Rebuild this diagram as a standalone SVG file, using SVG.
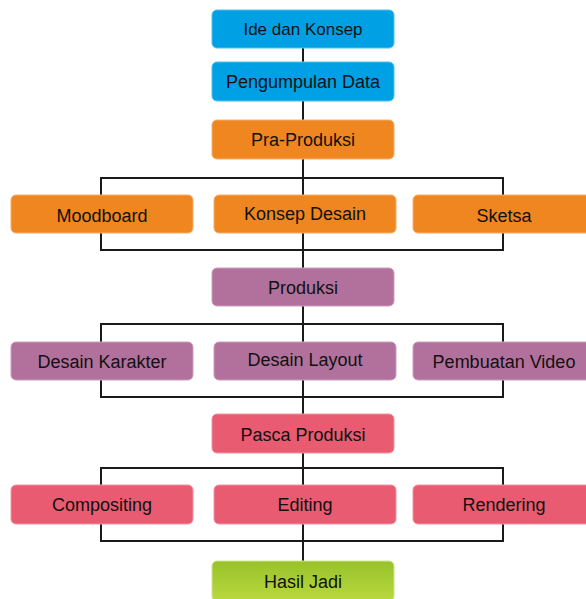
<svg xmlns="http://www.w3.org/2000/svg" width="586" height="599" viewBox="0 0 586 599">
<defs>
<linearGradient id="gGreen" x1="0" y1="0" x2="0" y2="1">
<stop offset="0" stop-color="#98c22a"/>
<stop offset="1" stop-color="#b9d93f"/>
</linearGradient>
<style>
.box{stroke-width:1}
.blue{fill:#00a0e4;stroke:#4fc0ee}
.orange{fill:#ef861f;stroke:#f5ae6a}
.purple{fill:#b1719c;stroke:#cc9fbd}
.pink{fill:#e85b70;stroke:#f094a2}
.green{fill:url(#gGreen);stroke:#cfe58a}
.lbl{font-size:18px;fill:#111;text-anchor:middle}
.con{fill:none;stroke:#1a1a1a;stroke-width:2}
</style>
</defs>
<rect width="586" height="599" fill="#fff"/>
<g id="connectors">
<line class="con" x1="303" y1="40" x2="303" y2="570"/>
<rect class="con" x="101" y="178" width="402" height="72"/>
<rect class="con" x="101" y="324" width="402" height="73"/>
<rect class="con" x="101" y="468" width="402" height="73"/>
</g>
<g font-family="Liberation Sans, Arial, sans-serif">
<g id="ide"><rect class="box blue" x="212" y="10" width="182" height="38" rx="5"/><text class="lbl" x="303" y="34.5" style="font-size:17px">Ide dan Konsep</text></g>
<g id="pengumpulan"><rect class="box blue" x="212" y="62" width="182" height="39" rx="5"/><text class="lbl" x="303" y="87.5">Pengumpulan Data</text></g>
<g id="praproduksi"><rect class="box orange" x="212" y="120" width="182" height="39" rx="5"/><text class="lbl" x="303" y="146">Pra-Produksi</text></g>
<g id="moodboard"><rect class="box orange" x="11" y="195" width="182" height="38" rx="5"/><text class="lbl" x="102" y="221.5">Moodboard</text></g>
<g id="konsepdesain"><rect class="box orange" x="214" y="195" width="182" height="38" rx="5"/><text class="lbl" x="305" y="219.5">Konsep Desain</text></g>
<g id="sketsa"><rect class="box orange" x="413" y="195" width="182" height="38" rx="5"/><text class="lbl" x="504" y="221.5">Sketsa</text></g>
<g id="produksi"><rect class="box purple" x="212" y="268" width="182" height="38" rx="5"/><text class="lbl" x="303" y="293.5">Produksi</text></g>
<g id="desainkarakter"><rect class="box purple" x="11" y="342" width="182" height="38" rx="5"/><text class="lbl" x="102" y="367.5">Desain Karakter</text></g>
<g id="desainlayout"><rect class="box purple" x="214" y="342" width="182" height="38" rx="5"/><text class="lbl" x="305" y="365.5">Desain Layout</text></g>
<g id="pembuatanvideo"><rect class="box purple" x="413" y="342" width="182" height="38" rx="5"/><text class="lbl" x="504" y="367.5">Pembuatan Video</text></g>
<g id="pascaproduksi"><rect class="box pink" x="212" y="414" width="182" height="39" rx="5"/><text class="lbl" x="303" y="440.5">Pasca Produksi</text></g>
<g id="compositing"><rect class="box pink" x="11" y="485" width="182" height="39" rx="5"/><text class="lbl" x="102" y="510.5">Compositing</text></g>
<g id="editing"><rect class="box pink" x="214" y="485" width="182" height="39" rx="5"/><text class="lbl" x="305" y="510.5">Editing</text></g>
<g id="rendering"><rect class="box pink" x="413" y="485" width="182" height="39" rx="5"/><text class="lbl" x="504" y="510.5">Rendering</text></g>
<g id="hasiljadi"><rect class="box green" x="212" y="561" width="182" height="40" rx="5"/><text class="lbl" x="303" y="587.5">Hasil Jadi</text></g>
</g>
</svg>
